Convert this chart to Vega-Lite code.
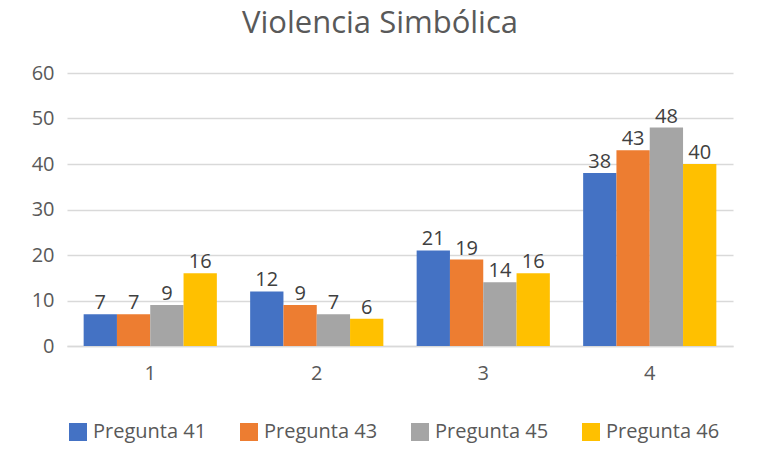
{
  "$schema": "https://vega.github.io/schema/vega-lite/v6.json",
  "autosize": {"type": "none"},
  "width": 666,
  "height": 273,
  "padding": {"left": 67, "top": 73, "right": 27, "bottom": 124},
  "background": "white",
  "title": {
    "text": "Violencia Simbólica",
    "font": "Open Sans",
    "fontSize": 31,
    "fontWeight": "normal",
    "color": "#595959",
    "anchor": "middle",
    "dx": -20,
    "offset": 23
  },
  "data": {
    "values": [
      {"grupo": "1", "serie": "Pregunta 41", "valor": 7},
      {"grupo": "1", "serie": "Pregunta 43", "valor": 7},
      {"grupo": "1", "serie": "Pregunta 45", "valor": 9},
      {"grupo": "1", "serie": "Pregunta 46", "valor": 16},
      {"grupo": "2", "serie": "Pregunta 41", "valor": 12},
      {"grupo": "2", "serie": "Pregunta 43", "valor": 9},
      {"grupo": "2", "serie": "Pregunta 45", "valor": 7},
      {"grupo": "2", "serie": "Pregunta 46", "valor": 6},
      {"grupo": "3", "serie": "Pregunta 41", "valor": 21},
      {"grupo": "3", "serie": "Pregunta 43", "valor": 19},
      {"grupo": "3", "serie": "Pregunta 45", "valor": 14},
      {"grupo": "3", "serie": "Pregunta 46", "valor": 16},
      {"grupo": "4", "serie": "Pregunta 41", "valor": 38},
      {"grupo": "4", "serie": "Pregunta 43", "valor": 43},
      {"grupo": "4", "serie": "Pregunta 45", "valor": 48},
      {"grupo": "4", "serie": "Pregunta 46", "valor": 40}
    ]
  },
  "encoding": {
    "x": {
      "field": "grupo",
      "type": "nominal",
      "scale": {"paddingInner": 0.2, "paddingOuter": 0.1},
      "axis": {
        "title": null,
        "labelAngle": 0,
        "labelFont": "Open Sans",
        "labelFontSize": 20,
        "labelColor": "#595959",
        "labelPadding": 17,
        "ticks": false,
        "domain": true,
        "domainColor": "#D9D9D9",
        "domainWidth": 1.5
      }
    },
    "xOffset": {"field": "serie", "type": "nominal"},
    "y": {
      "field": "valor",
      "type": "quantitative",
      "scale": {"domain": [0, 60]},
      "axis": {
        "title": null,
        "values": [0, 10, 20, 30, 40, 50, 60],
        "labelFont": "Open Sans",
        "labelFontSize": 20,
        "labelColor": "#595959",
        "labelPadding": 13,
        "ticks": false,
        "domain": false,
        "gridColor": "#D9D9D9",
        "gridWidth": 1.3
      }
    }
  },
  "layer": [
    {
      "mark": {"type": "bar"},
      "encoding": {
        "color": {
          "field": "serie",
          "type": "nominal",
          "scale": {
            "domain": ["Pregunta 41", "Pregunta 43", "Pregunta 45", "Pregunta 46"],
            "range": ["#4472C4", "#ED7D31", "#A5A5A5", "#FFC000"]
          },
          "legend": {
            "title": null,
            "orient": "none",
            "direction": "horizontal",
            "legendX": 1,
            "legendY": 349,
            "symbolType": "square",
            "symbolSize": 324,
            "symbolStrokeWidth": 0,
            "symbolOpacity": 1,
            "labelFont": "Open Sans",
            "labelFontSize": 20,
            "labelColor": "#595959",
            "labelOffset": 5,
            "columnPadding": 32,
            "labelLimit": 200
          }
        }
      }
    },
    {
      "mark": {
        "type": "text",
        "baseline": "bottom",
        "dy": -1,
        "font": "Open Sans",
        "fontSize": 20,
        "color": "#404040"
      },
      "encoding": {
        "text": {"field": "valor", "type": "quantitative"}
      }
    }
  ],
  "config": {"view": {"stroke": null}}
}
